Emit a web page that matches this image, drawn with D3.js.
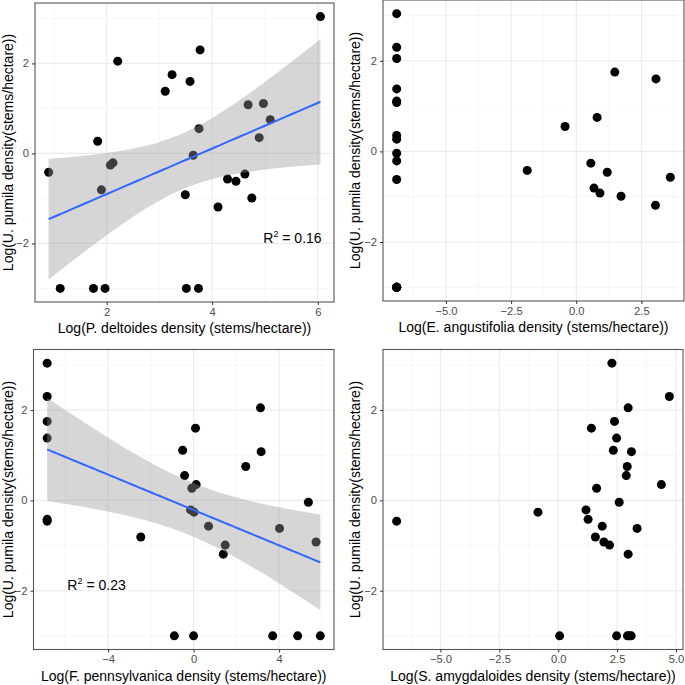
<!DOCTYPE html>
<html>
<head>
<meta charset="utf-8">
<script src="https://cdn.jsdelivr.net/npm/d3@7"></script>
<style>
  html, body { margin: 0; padding: 0; background: #fff; }
  svg { display: block; font-family: "Liberation Sans", Arial, Helvetica, sans-serif; }
</style>
</head>
<body>
<svg id="chart" width="685" height="685"></svg>
<script>
// ---------- data ----------
const yTitle = "Log(U. pumila density(stems/hectare))";

const p1Title = "Log(P. deltoides density (stems/hectare))";
const p1x = [0.90,1.12,1.75,1.97,1.83,1.90,2.07,2.12,2.21,3.11,3.24,3.49,3.51,3.58,3.64,3.75,3.77,3.74,4.11,4.29,4.45,4.62,4.68,4.75,4.89,4.97,5.10,6.05];
const p1y = [-0.42,-3,-3,-3,0.27,-0.81,-0.26,-0.21,2.05,1.38,1.75,-0.92,-3,1.60,-0.04,0.55,2.30,-3,-1.19,-0.57,-0.62,-0.46,1.08,-0.99,0.35,1.11,0.75,3.04];
const p1xTicks = [2, 4, 6];

const p2Title = "Log(E. angustifolia density (stems/hectare))";
const p2x = [-6.89,-6.89,-6.89,-6.89,-6.89,-6.89,-6.89,-6.89,-6.89,-6.89,-6.89,-6.89,-6.89,-6.89,-6.89,-6.89,
             -1.88,-0.43,0.56,0.68,0.80,0.91,1.19,1.48,1.72,3.06,3.04,3.61];
const p2y = [3.04,2.30,2.05,1.38,1.11,1.08,0.35,0.27,-0.04,-0.21,-0.62,-3,-3,-3,-3,-3,
             -0.42,0.55,-0.26,-0.81,0.75,-0.92,-0.46,1.75,-0.99,1.60,-1.19,-0.57];
const p2xTicks = [-5.0, -2.5, 0.0, 2.5];

const p3Title = "Log(F. pennsylvanica density (stems/hectare))";
const p3x = [-6.85,-6.85,-6.85,-6.85,-6.85,-6.85,-2.47,-0.90,0.00,-0.51,-0.42,0.09,0.12,-0.08,-0.14,0.02,0.70,1.39,1.48,2.44,3.13,3.16,3.70,4.02,4.87,5.37,5.73,5.93];
const p3y = [3.04,2.30,1.75,1.38,-0.42,-0.46,-0.81,-3,-3,1.11,0.55,1.60,0.35,0.27,-0.21,-0.26,-0.57,-1.19,-0.99,0.75,2.05,1.08,-3,-0.62,-3,-0.04,-0.92,-3];
const p3xTicks = [-4, 0, 4];

const p4Title = "Log(S. amygdaloides density (stems/hectare))";
const p4x = [-6.86,-0.86,0.06,1.18,1.27,1.41,1.63,1.58,1.87,1.94,2.18,2.28,2.34,2.39,2.48,2.59,2.48,2.89,2.93,2.97,2.97,2.94,3.10,3.02,3.11,3.35,4.38,4.72];
const p4y = [-0.46,-0.26,-3,-0.21,-0.42,1.60,0.27,-0.81,-0.57,-0.92,-0.99,3.04,1.11,1.75,1.38,-0.04,-3,0.55,0.75,2.05,-1.19,-3,-3,-3,1.08,-0.62,0.35,2.30];
const p4xTicks = [-5.0, -2.5, 0.0, 2.5, 5.0];

const yTicks = [-2, 0, 2];
const r2Labels = ["0.16", null, "0.23", null];
const r2Pos = [[5.52, -1.87], null, [-4.54, -1.87], null];   // data coordinates of the annotation
const tCrit = 2.0555; // t(0.975, df = 26)

// ---------- layout ----------
const panels = [
  { x: p1x, y: p1y, title: p1Title, ticks: p1xTicks, fmt: d3.format("d"),   box: [35, 3, 334, 302],     fit: true,  yTitleX: 8,   ...{} },
  { x: p2x, y: p2y, title: p2Title, ticks: p2xTicks, fmt: d3.format(".1f"), box: [383, 0, 684, 301],    fit: false, yTitleX: 355 },
  { x: p3x, y: p3y, title: p3Title, ticks: p3xTicks, fmt: d3.format("d"),   box: [33.5, 349.5, 334, 649.5], fit: true,  yTitleX: 8 },
  { x: p4x, y: p4y, title: p4Title, ticks: p4xTicks, fmt: d3.format(".1f"), box: [383, 349.5, 683, 649.5], fit: false, yTitleX: 355 }
];

const svg = d3.select("#chart");

function expand(ext) { const e = (ext[1] - ext[0]) * 0.05; return [ext[0] - e, ext[1] + e]; }

panels.forEach((p, i) => {
  const [L, T, R, B] = p.box;
  const xs = d3.scaleLinear().domain(expand(d3.extent(p.x))).range([L, R]);
  const ys = d3.scaleLinear().domain(expand(d3.extent(p.y))).range([B, T]);
  const g = svg.append("g");

  // minor gridlines
  const xMaj = p.ticks, step = xMaj[1] - xMaj[0];
  const xMinor = d3.range(xMaj[0] - step * 3.5, xMaj[xMaj.length - 1] + step * 3.5, step)
    .map(v => v).filter(v => v > xs.domain()[0] && v < xs.domain()[1]);
  const yMinor = [-3, -1, 1, 3].filter(v => v > ys.domain()[0] && v < ys.domain()[1]);
  g.selectAll(".gxm").data(xMinor).join("line")
    .attr("x1", d => xs(d)).attr("x2", d => xs(d)).attr("y1", T).attr("y2", B)
    .attr("stroke", "#f2f2f2").attr("stroke-width", 0.6);
  g.selectAll(".gym").data(yMinor).join("line")
    .attr("y1", d => ys(d)).attr("y2", d => ys(d)).attr("x1", L).attr("x2", R)
    .attr("stroke", "#f2f2f2").attr("stroke-width", 0.6);
  // major gridlines
  g.selectAll(".gx").data(xMaj).join("line")
    .attr("x1", d => xs(d)).attr("x2", d => xs(d)).attr("y1", T).attr("y2", B)
    .attr("stroke", "#ebebeb").attr("stroke-width", 1.1);
  g.selectAll(".gy").data(yTicks).join("line")
    .attr("y1", d => ys(d)).attr("y2", d => ys(d)).attr("x1", L).attr("x2", R)
    .attr("stroke", "#ebebeb").attr("stroke-width", 1.1);

  // points
  const pts = p.x.map((v, k) => [v, p.y[k]]);
  g.selectAll(".pt").data(pts).join("circle")
    .attr("cx", d => xs(d[0])).attr("cy", d => ys(d[1])).attr("r", 4.5).attr("fill", "#000");

  // linear fit + 95% CI
  if (p.fit) {
    const n = pts.length;
    const mx = d3.mean(p.x), my = d3.mean(p.y);
    const sxx = d3.sum(p.x, v => (v - mx) ** 2);
    const sxy = d3.sum(pts, d => (d[0] - mx) * (d[1] - my));
    const b = sxy / sxx, a = my - b * mx;
    const sse = d3.sum(pts, d => (d[1] - a - b * d[0]) ** 2);
    const s = Math.sqrt(sse / (n - 2));
    const [x0, x1] = d3.extent(p.x);
    const grid = d3.range(0, 81).map(k => x0 + (x1 - x0) * k / 80);
    const band = grid.map(x => {
      const yh = a + b * x;
      const se = s * Math.sqrt(1 / n + (x - mx) ** 2 / sxx);
      return { x, lo: yh - tCrit * se, hi: yh + tCrit * se, y: yh };
    });
    g.append("path").datum(band)
      .attr("d", d3.area().x(d => xs(d.x)).y0(d => ys(d.lo)).y1(d => ys(d.hi)))
      .attr("fill", "#999999").attr("fill-opacity", 0.4);
    g.append("path").datum(band)
      .attr("d", d3.line().x(d => xs(d.x)).y(d => ys(d.y)))
      .attr("fill", "none").attr("stroke", "#3366FF").attr("stroke-width", 2);
  }

  // R² annotation
  if (r2Labels[i]) {
    const t = g.append("text")
      .attr("x", xs(r2Pos[i][0])).attr("y", ys(r2Pos[i][1]) + 5)
      .attr("text-anchor", "middle").attr("font-size", 14).attr("fill", "#000");
    t.append("tspan").text("R");
    t.append("tspan").text("2").attr("font-size", 9).attr("dy", -6);
    t.append("tspan").text(" = " + r2Labels[i]).attr("dy", 6);
  }

  // panel border
  g.append("rect").attr("x", L).attr("y", T).attr("width", R - L).attr("height", B - T)
    .attr("fill", "none").attr("stroke", "#555").attr("stroke-width", 1.1);

  // axes
  const xAxis = d3.axisBottom(xs).tickValues(p.ticks).tickFormat(p.fmt).tickSize(3).tickPadding(3);
  const gx = g.append("g").attr("transform", `translate(0,${B})`).call(xAxis);
  const yAxis = d3.axisLeft(ys).tickValues(yTicks).tickFormat(d3.format("d")).tickSize(3).tickPadding(3);
  const gy = g.append("g").attr("transform", `translate(${L},0)`).call(yAxis);
  [gx, gy].forEach(ax => {
    ax.select(".domain").remove();
    ax.selectAll(".tick line").attr("stroke", "#333");
    ax.selectAll(".tick text").attr("fill", "#4d4d4d").attr("font-size", 11.2)
      .attr("font-family", "'Liberation Sans', Arial, sans-serif");
  });

  // axis titles
  g.append("text").attr("x", (L + R) / 2).attr("y", B + 31)
    .attr("text-anchor", "middle").attr("font-size", 14).attr("fill", "#000").text(p.title);
  g.append("text").attr("transform", `translate(${p.yTitleX},${(T + B) / 2}) rotate(-90)`)
    .attr("text-anchor", "middle").attr("dominant-baseline", "central")
    .attr("font-size", 14).attr("fill", "#000").text(yTitle);
});
</script>
</body>
</html>
